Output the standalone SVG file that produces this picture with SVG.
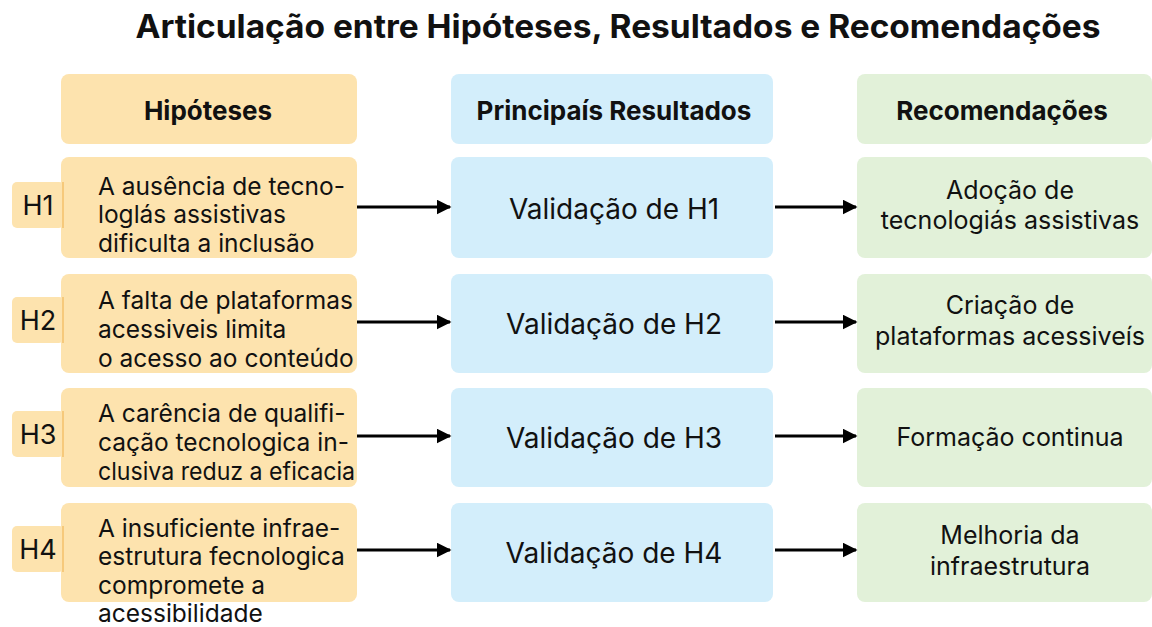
<svg xmlns="http://www.w3.org/2000/svg" width="1152" height="627" viewBox="0 0 1152 627">
<defs>
<marker id="ah" viewBox="0 0 10 10" refX="9" refY="5" markerWidth="15" markerHeight="15" markerUnits="userSpaceOnUse" orient="auto"><path d="M0,0 L10,5 L0,10 Z" fill="#000"/></marker>
<style>
.t{font-family:Inter,"Noto Sans","Liberation Sans",sans-serif;fill:#111}
.title{font-size:32px;font-weight:700}
.hd{font-size:26px;font-weight:700;text-anchor:middle}
.hx{font-size:24.5px}
.mid{font-size:28px;text-anchor:middle}
.rec{font-size:25px;text-anchor:middle}
.tab{font-size:27px;text-anchor:middle}
.o{fill:#FDE3AE}
.b{fill:#D3EEFB}
.g{fill:#E2F1D9}
.c{stroke:#000;stroke-width:3;fill:none;marker-end:url(#ah)}
</style>
</defs>
<rect width="1152" height="627" fill="#FFFFFF"/>
<text class="t title" x="618" y="38" text-anchor="middle" textLength="965" lengthAdjust="spacingAndGlyphs">Articulação entre Hipóteses, Resultados e Recomendações</text>

<g id="hdr-hip"><rect class="o" x="61" y="74" width="296" height="70" rx="8"/><text class="t hd" x="208" y="120">Hipóteses</text></g>
<g id="hdr-res"><rect class="b" x="451" y="74" width="322" height="70" rx="8"/><text class="t hd" x="614" y="120">Principaís Resultados</text></g>
<g id="hdr-rec"><rect class="g" x="857" y="74" width="295" height="70" rx="8"/><text class="t hd" x="1002" y="120">Recomendações</text></g>

<g id="h1">
<rect class="o" x="61" y="157" width="296" height="101" rx="8"/>
<rect class="o" x="12" y="182" width="52" height="46" rx="5"/><rect x="62" y="182" width="2" height="46" fill="#F6C97B"/>
<text class="t tab" x="38" y="215">H1</text>
<text class="t hx" x="98" y="195">A ausência de tecno-</text>
<text class="t hx" x="98" y="223">loglás assistivas</text>
<text class="t hx" x="98" y="252">dificulta a inclusão</text>
</g>
<g id="h2">
<rect class="o" x="61" y="274" width="296" height="99" rx="8"/>
<rect class="o" x="12" y="297" width="52" height="46" rx="5"/><rect x="62" y="297" width="2" height="46" fill="#F6C97B"/>
<text class="t tab" x="38" y="330">H2</text>
<text class="t hx" x="98" y="309">A falta de plataformas</text>
<text class="t hx" x="98" y="338">acessiveis limita</text>
<text class="t hx" x="98" y="367">o acesso ao conteúdo</text>
</g>
<g id="h3">
<rect class="o" x="61" y="388" width="296" height="99" rx="8"/>
<rect class="o" x="12" y="411" width="52" height="46" rx="5"/><rect x="62" y="411" width="2" height="46" fill="#F6C97B"/>
<text class="t tab" x="38" y="444">H3</text>
<text class="t hx" x="98" y="422">A carência de qualifi-</text>
<text class="t hx" x="98" y="451">cação tecnologica in-</text>
<text class="t hx" x="98" y="480" textLength="257" lengthAdjust="spacingAndGlyphs">clusiva reduz a eficacia</text>
</g>
<g id="h4">
<rect class="o" x="61" y="503" width="296" height="99" rx="8"/>
<rect class="o" x="12" y="526" width="52" height="46" rx="5"/><rect x="62" y="526" width="2" height="46" fill="#F6C97B"/>
<text class="t tab" x="38" y="559">H4</text>
<text class="t hx" x="98" y="537">A insuficiente infrae-</text>
<text class="t hx" x="98" y="565">estrutura fecnologica</text>
<text class="t hx" x="98" y="594">compromete a</text>
<text class="t hx" x="98" y="622">acessibilidade</text>
</g>

<g id="r1"><rect class="b" x="451" y="157" width="322" height="101" rx="8"/><text class="t mid" x="614" y="219">Validação de H1</text></g>
<g id="r2"><rect class="b" x="451" y="274" width="322" height="99" rx="8"/><text class="t mid" x="614" y="334">Validação de H2</text></g>
<g id="r3"><rect class="b" x="451" y="388" width="322" height="99" rx="8"/><text class="t mid" x="614" y="448">Validação de H3</text></g>
<g id="r4"><rect class="b" x="451" y="503" width="322" height="99" rx="8"/><text class="t mid" x="614" y="563">Validação de H4</text></g>

<g id="c1"><rect class="g" x="857" y="157" width="295" height="101" rx="8"/><text class="t rec" x="1010" y="199">Adoção de</text><text class="t rec" x="1010" y="229">tecnologiás assistivas</text></g>
<g id="c2"><rect class="g" x="857" y="274" width="295" height="99" rx="8"/><text class="t rec" x="1010" y="314">Criação de</text><text class="t rec" x="1010" y="345">plataformas acessiveís</text></g>
<g id="c3"><rect class="g" x="857" y="388" width="295" height="99" rx="8"/><text class="t rec" x="1010" y="446">Formação continua</text></g>
<g id="c4"><rect class="g" x="857" y="503" width="295" height="99" rx="8"/><text class="t rec" x="1010" y="544">Melhoria da</text><text class="t rec" x="1010" y="575">infraestrutura</text></g>

<g id="connectors">
<line class="c" x1="357" y1="207" x2="450" y2="207"/>
<line class="c" x1="357" y1="322" x2="450" y2="322"/>
<line class="c" x1="357" y1="436" x2="450" y2="436"/>
<line class="c" x1="357" y1="550" x2="450" y2="550"/>
<line class="c" x1="775" y1="207" x2="856" y2="207"/>
<line class="c" x1="775" y1="322" x2="856" y2="322"/>
<line class="c" x1="775" y1="436" x2="856" y2="436"/>
<line class="c" x1="775" y1="550" x2="856" y2="550"/>
</g>
</svg>
